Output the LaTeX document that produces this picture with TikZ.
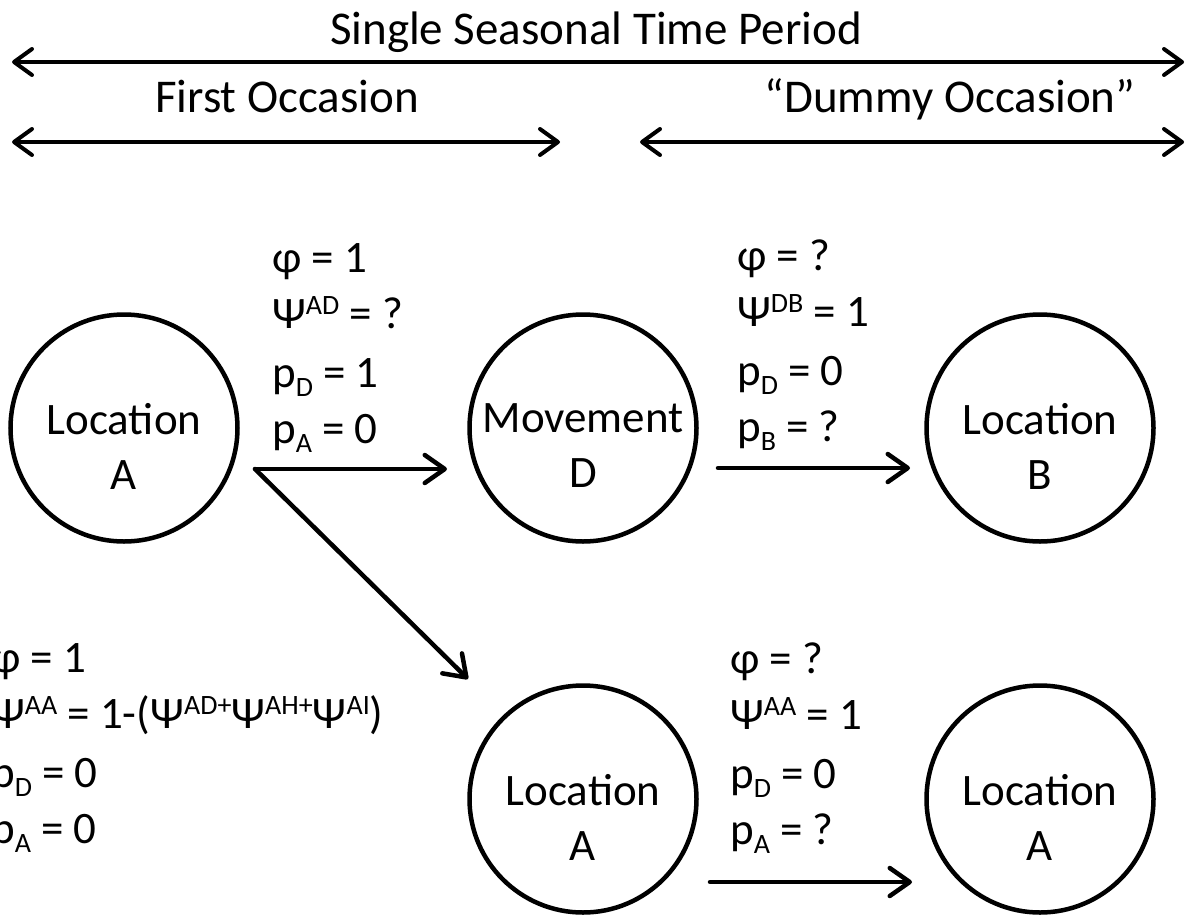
\documentclass[tikz,border=0pt]{standalone}
\usepackage{fontspec}
\setmainfont{Carlito}
\usepackage{tikz}
\usetikzlibrary{arrows.meta, positioning}
\newcommand{\hi}[1]{\raisebox{14pt}{\fontsize{28}{28}\selectfont #1}}
\newcommand{\lo}[1]{\raisebox{-9pt}{\fontsize{28}{28}\selectfont #1}}

\begin{document}
\begin{tikzpicture}[
  x=1pt, y=-1pt,
  font=\fontsize{45}{56}\selectfont,
  state/.style={draw, circle, line width=4.5pt, minimum size=227pt, inner sep=0pt},
  inlbl/.style={align=center, font=\fontsize{45}{55}\selectfont, yshift=-18pt},
  pars/.style={align=left, anchor=base west, inner sep=0pt},
  head/.style={anchor=base, font=\fontsize{47}{56}\selectfont},
  trans/.style={line width=4.5pt, line cap=round,
                -{Straight Barb[length=20pt, width=28pt, line cap=round, line join=round]}},
  period/.style={line width=4pt, line cap=round,
                 {Straight Barb[length=18pt, width=26pt, line cap=round, line join=round]}-{Straight Barb[length=18pt, width=26pt, line cap=round, line join=round]}},
]
\useasboundingbox (0,0) rectangle (1188,918);

% ---------------- Zeitraum / Occasions ----------------
\node[head] (season) at (596,44)  {Single Seasonal Time Period};
\node[head] (first)  at (287,112) {First Occasion};
\node[head] (dummy)  at (950,112) {“Dummy Occasion”};
\coordinate (seasonL) at (12,62);  \coordinate (seasonR) at (1184,62);
\coordinate (firstL)  at (12,142); \coordinate (firstR)  at (560,142);
\coordinate (dummyL)  at (640,142); \coordinate (dummyR) at (1184,142);
\draw[period] (seasonL) -- (seasonR);
\draw[period] (firstL) -- (firstR);
\draw[period] (dummyL) -- (dummyR);

% ---------------- Zustaende ----------------
\node[state, label={[inlbl]center:Location\\A}] (locA)   at (124,428) {};
\node[state, label={[inlbl]center:Movement\\D}] (moveD)  at (583,428) {};
\node[state, label={[inlbl]center:Location\\B}] (locB)   at (1040,428) {};
\node[state, label={[inlbl]center:Location\\A}] (stayA)  at (583,799) {};
\node[state, label={[inlbl]center:Location\\A}] (stayA2) at (1040,799) {};

% ---------------- Parameter (base = letzte Zeile) ----------------
\node[pars] (parAD)  at (272,443) {φ = 1\\Ψ\hi{AD} = ?\\[3pt]p\lo{D} = 1\\p\lo{A} = 0};
\node[pars] (parDB)  at (737,441) {φ = ?\\Ψ\hi{DB} = 1\\[3pt]p\lo{D} = 0\\p\lo{B} = ?};
\node[pars] (parAA)  at (-9,843)  {φ = 1\\Ψ\hi{AA} = 1-(Ψ\hi{AD+}Ψ\hi{AH+}Ψ\hi{AI})\\[3pt]p\lo{D} = 0\\p\lo{A} = 0};
\node[pars] (parAA2) at (730,844) {φ = ?\\Ψ\hi{AA} = 1\\[3pt]p\lo{D} = 0\\p\lo{A} = ?};

% ---------------- Uebergaenge ----------------
\coordinate (fork)   at (255,469);
\coordinate (tipD)   at (447,469);
\coordinate (tipLow) at (468,679);
\coordinate (outD)   at (718,468);
\coordinate (tipB)   at (910,468);
\coordinate (outLow) at (710,882);
\coordinate (tipA)   at (912,882);
\draw[trans] (fork) -- (tipD);
\draw[trans] (fork) -- (tipLow);
\draw[trans] (outD) -- (tipB);
\draw[trans] (outLow) -- (tipA);
\end{tikzpicture}
\end{document}
